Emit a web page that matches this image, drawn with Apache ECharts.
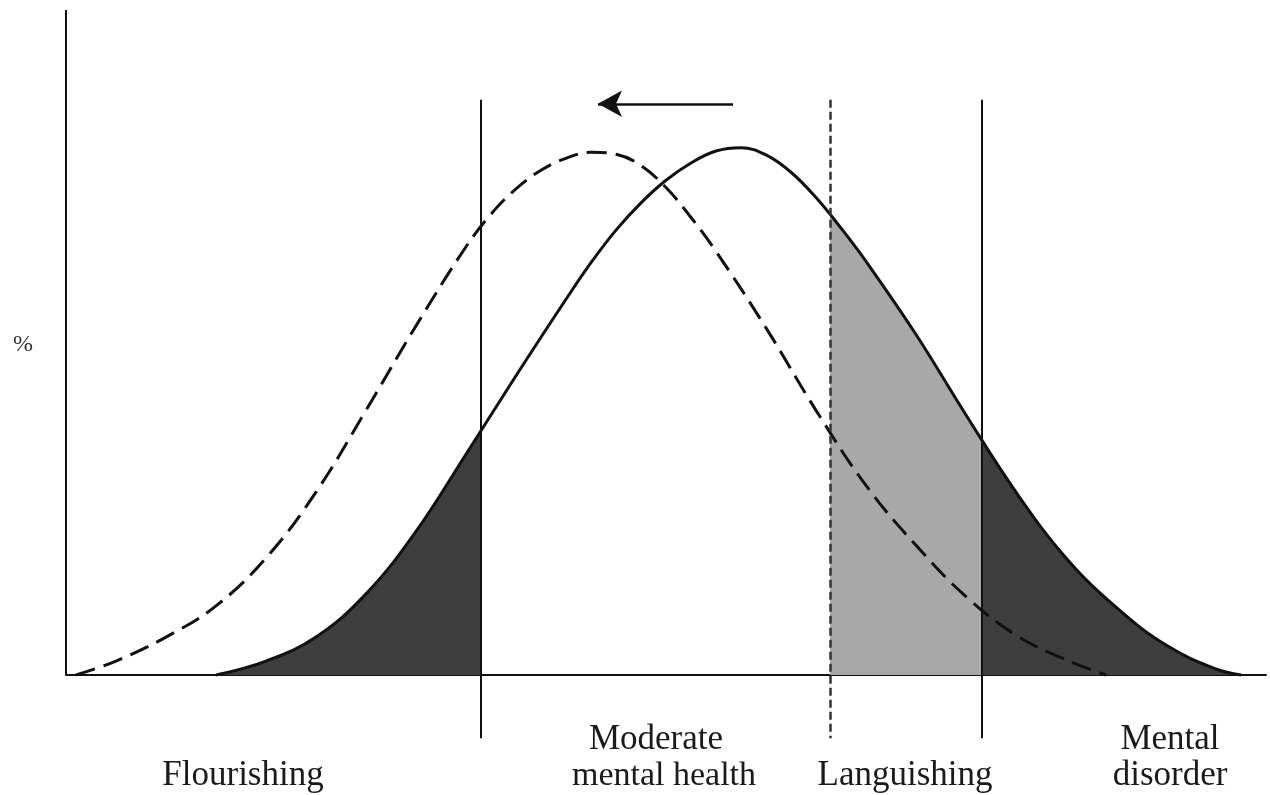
<!DOCTYPE html>
<html>
<head>
<meta charset="utf-8">
<script src="https://cdn.jsdelivr.net/npm/echarts@6/dist/echarts.min.js"></script>
<style>
  html, body { margin: 0; padding: 0; background: #fff; }
  #main { width: 1270px; height: 795px; }
</style>
</head>
<body>
<div id="main"></div>
<script type="text/javascript">
// current distribution (solid)
var solidX = [15, 20, 25, 30, 35, 40, 45, 50, 52.5, 55, 57.5, 60, 62.5, 65, 67.5, 70, 72.5, 75, 77.5, 80, 85, 90, 95, 100, 105, 110, 115, 117.5];
var solidY = [0, 2.1, 5.7, 12.2, 21.6, 33.2, 45.0, 56.5, 62.0, 66.9, 71.0, 74.4, 77.0, 78.8, 79.3, 78.2, 75.6, 71.8, 67.2, 62.2, 51.2, 39.1, 27.5, 17.6, 10.2, 4.5, 0.9, 0];
// shifted distribution (dashed)
var shiftedX = [1, 5, 10, 15, 20, 25, 30, 35, 40, 42.5, 45, 47.5, 50, 52.5, 55, 57.5, 60, 62.5, 65, 70, 75, 80, 85, 90, 95, 100, 104];
var shiftedY = [0, 2.1, 5.7, 10.4, 17.6, 27.5, 39.8, 52.5, 64.4, 69.3, 73.1, 75.9, 77.7, 78.6, 78.3, 76.6, 73.3, 68.8, 63.7, 52.2, 39.8, 28.5, 19.5, 11.8, 6.0, 2.3, 0];
// cut-off points: flourishing | moderate | languishing | mental disorder
var cutPoints = [41.5, 76.4, 91.6];
var arrowFrom = [66.7, 85.9];
var arrowTo = [53.2, 85.9];

var solidData = solidX.map(function (x, i) { return [x, solidY[i]]; });
var shiftedData = shiftedX.map(function (x, i) { return [x, shiftedY[i]]; });

var chart = echarts.init(document.getElementById('main'));
var labelFont = { fontFamily: 'Liberation Serif', fontSize: 35, fill: '#1a1a1a', align: 'center', verticalAlign: 'middle' };

function txt(text, x, y, extra) {
  return { type: 'text', x: x, y: y, style: Object.assign({ text: text }, labelFont, extra || {}) };
}

var option = {
  backgroundColor: '#fff',
  animation: false,
  grid: { left: 66, right: 4, top: 10, bottom: 53.5 },
  xAxis: {
    type: 'value', min: 0, max: 120,
    axisLine: { show: true, onZero: true, lineStyle: { color: '#111', width: 2 } },
    axisTick: { show: false }, axisLabel: { show: false }, splitLine: { show: false }
  },
  yAxis: {
    type: 'value', min: -10, max: 100,
    axisLine: { show: false }, axisTick: { show: false }, axisLabel: { show: false }, splitLine: { show: false }
  },
  visualMap: {
    show: false,
    type: 'piecewise',
    seriesIndex: 0,
    dimension: 0,
    pieces: [
      { lt: cutPoints[0], color: '#3e3e3e' },
      { gte: cutPoints[0], lt: cutPoints[1], color: 'rgba(255,255,255,0)' },
      { gte: cutPoints[1], lt: cutPoints[2], color: '#a8a8a8' },
      { gte: cutPoints[2], color: '#3e3e3e' }
    ]
  },
  series: [
    {
      // shaded tails under the solid curve
      type: 'line', data: solidData, smooth: 0.4, showSymbol: false, silent: true,
      lineStyle: { width: 0, opacity: 0 },
      areaStyle: { opacity: 1 },
      z: 1
    },
    {
      type: 'line', data: shiftedData, smooth: 0.4, showSymbol: false, silent: true,
      lineStyle: { color: '#111', width: 3, type: [20, 9] },
      z: 3
    },
    {
      type: 'line', data: solidData, smooth: 0.4, showSymbol: false, silent: true,
      lineStyle: { color: '#111', width: 3 },
      z: 4,
      markLine: {
        silent: true,
        symbol: ['none', 'none'],
        label: { show: false },
        lineStyle: { color: '#111', width: 2, type: 'solid' },
        data: [
          [{ coord: [0, 0] }, { coord: [0, 100] }],
          [{ coord: [cutPoints[0], 86.5] }, { coord: [cutPoints[0], -9.5] }],
          [{ coord: [cutPoints[1], 86.5], lineStyle: { type: [8, 4], width: 2.5, color: '#333' } }, { coord: [cutPoints[1], -9.5] }],
          [{ coord: [cutPoints[2], 86.5] }, { coord: [cutPoints[2], -9.5] }],
          [{ coord: arrowFrom, symbol: 'none', lineStyle: { width: 2.5 } }, { coord: arrowTo, symbol: 'arrow', symbolSize: [20, 24] }]
        ]
      }
    }
  ],
  graphic: [
    txt('%', 23, 345, { fontSize: 24, fill: '#333' }),
    txt('Flourishing', 243, 776),
    txt('Moderate', 656, 740),
    txt('mental health', 664, 776, { fontSize: 34 }),
    txt('Languishing', 905, 776),
    txt('Mental', 1170, 740),
    txt('disorder', 1170, 776)
  ]
};
chart.setOption(option);
</script>
</body>
</html>
